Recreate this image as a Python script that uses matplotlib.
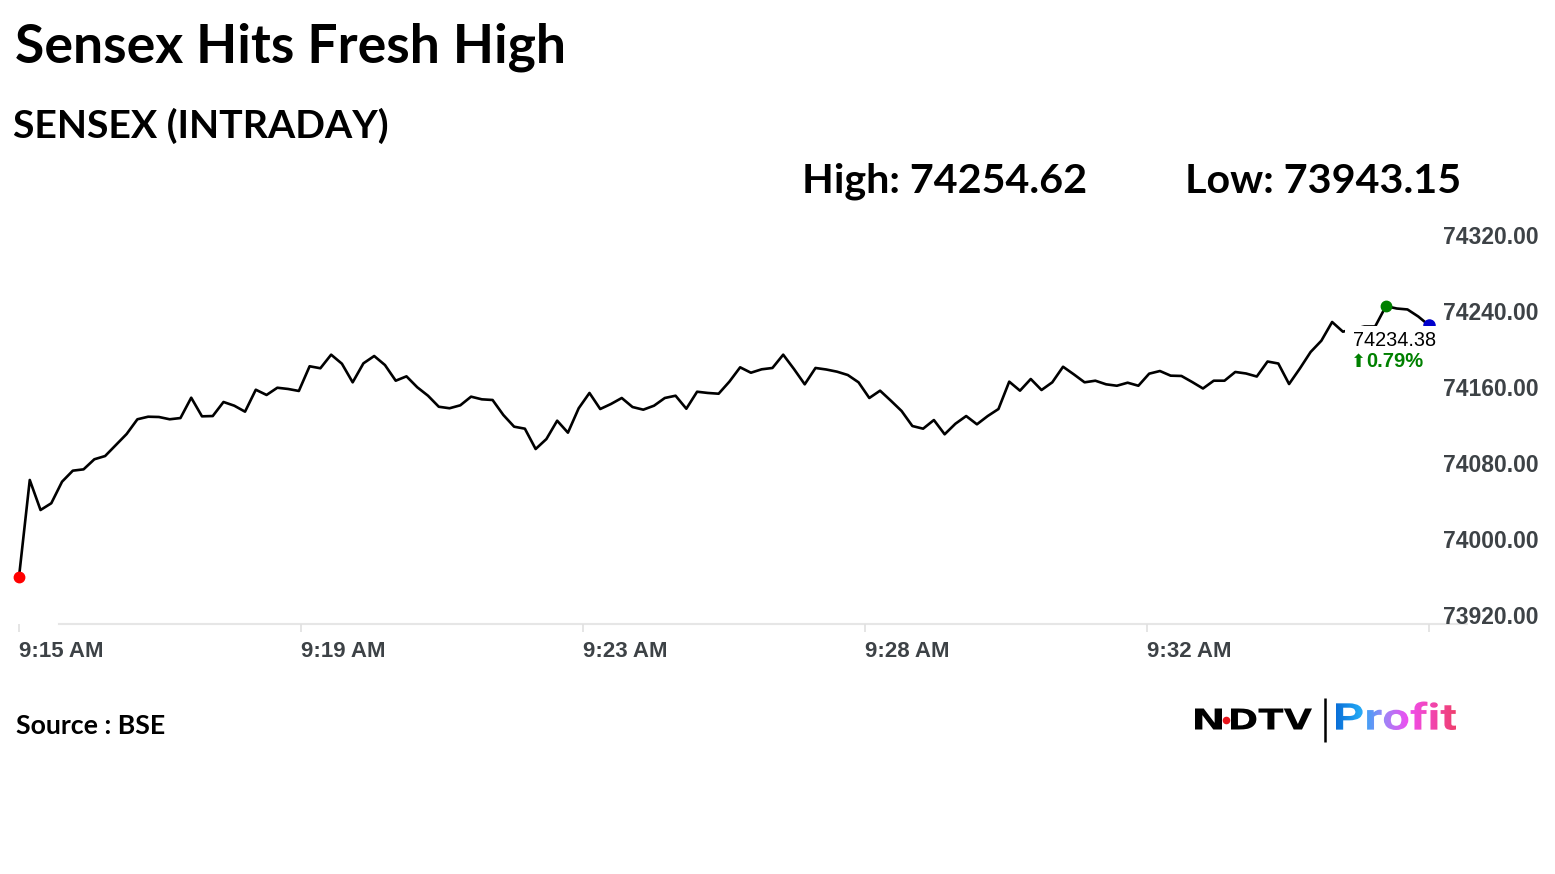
import numpy as np
import matplotlib.pyplot as plt
import matplotlib.transforms as mtransforms
from matplotlib.textpath import TextPath
from matplotlib.font_manager import FontProperties
from matplotlib.patches import PathPatch, Rectangle, Circle
from matplotlib.colors import LinearSegmentedColormap

W, H = 1555, 874

# Sensex intraday ticks
sensex = [
    73969.5, 74071.6, 74040.0, 74047.1, 74069.8, 74081.4, 74082.8, 74093.4, 74096.8, 74108.4,
    74120.0, 74135.5, 74138.2, 74137.9, 74135.5, 74136.8, 74158.2, 74138.6, 74138.9, 74153.7,
    74149.8, 74143.5, 74166.6, 74161.1, 74168.7, 74167.4, 74165.3, 74191.3, 74189.2, 74203.5,
    74194.0, 74174.4, 74194.4, 74202.1, 74192.6, 74176.1, 74180.7, 74169.2, 74160.3, 74148.7,
    74147.1, 74150.2, 74159.3, 74156.5, 74155.8, 74140.0, 74127.7, 74125.6, 74104.2, 74114.7,
    74134.0, 74121.4, 74147.1, 74163.2, 74146.3, 74151.6, 74157.9, 74148.4, 74145.6, 74149.8,
    74157.9, 74160.3, 74146.6, 74164.5, 74163.2, 74162.4, 74175.1, 74190.2, 74184.5, 74188.1,
    74189.5, 74203.5, 74188.4, 74172.3, 74189.5, 74187.9, 74185.6, 74182.1, 74174.4, 74157.9,
    74165.6, 74155.1, 74144.2, 74128.4, 74125.6, 74134.7, 74119.7, 74130.8, 74138.9, 74130.2,
    74138.9, 74146.3, 74175.1, 74165.6, 74177.9, 74166.3, 74174.4, 74190.8, 74182.8, 74174.4,
    74176.1, 74172.3, 74170.8, 74174.0, 74170.8, 74183.5, 74186.3, 74181.4, 74181.1, 74174.7,
    74167.9, 74176.1, 74176.1, 74185.3, 74183.7, 74180.5, 74196.3, 74194.2, 74172.6, 74188.9,
    74206.3, 74218.2, 74237.9, 74227.7, 74230.5, 74233.2, 74233.2, 74254.62, 74252.1, 74251.1,
    74243.7, 74234.38,
]
time_labels = ["9:15 AM", "9:19 AM", "9:23 AM", "9:28 AM", "9:32 AM", ""]
y_ticks = [73920, 74000, 74080, 74160, 74240, 74320]
day_high = 74254.62
day_low = 73943.15
pct_change = 0.79

profit_colors = ["#0a6fd8", "#23a9f5", "#9b86f7", "#f04ef0", "#f246b0", "#ef3f6e"]

def fx(x):
    return x / W

def fy(y):
    return 1 - y / H

fig = plt.figure(figsize=(W / 100, H / 100), dpi=100)
fig.patch.set_facecolor("white")

ax = fig.add_axes([fx(19), (H - 624) / H, 1410 / W, 380 / H])
x = np.arange(len(sensex))
ax.set_xlim(0, len(sensex) - 1)
ax.set_ylim(y_ticks[0], y_ticks[-1])
for s in ax.spines.values():
    s.set_visible(False)

ax.plot(x, sensex, color="black", lw=1.9, clip_on=False, zorder=3)
ax.plot(x[0], sensex[0], "o", color="red", ms=7.5, clip_on=False, zorder=4)
i_hi = int(np.argmax(sensex))
ax.plot(x[i_hi], sensex[i_hi], "o", color="green", ms=7.5, clip_on=False, zorder=4)
ax.plot(x[-1], sensex[-1], "o", color="#0000cc", ms=8, clip_on=False, zorder=4)

# baseline
ax.axhline(y_ticks[0], xmin=40 / 1410, xmax=1448 / 1410, color="#e6e6e6", lw=1.5,
           clip_on=False, zorder=1)

# x axis
ax.set_xticks(np.linspace(0, len(sensex) - 1, len(time_labels)))
ax.set_xticklabels(time_labels)
ax.tick_params(axis="x", length=6, width=1.2, color="#e0e0e0", pad=6.5,
               labelsize=16, labelcolor="#3d4246")
for lab in ax.get_xticklabels():
    lab.set_ha("left")
    lab.set_fontweight("bold")
    lab.set_family("Liberation Sans")

# y axis on the right
ax.yaxis.tick_right()
ax.set_yticks(y_ticks)
ax.set_yticklabels([f"{v:.2f}" for v in y_ticks])
ax.tick_params(axis="y", length=0, pad=10, labelsize=16.5, labelcolor="#3d4246")
for lab in ax.get_yticklabels():
    lab.set_va("baseline")
    lab.set_fontweight("bold")
    lab.set_family("Liberation Sans")

# last value label with white box
tr = fig.dpi_scale_trans + mtransforms.ScaledTranslation(x[-1], sensex[-1], ax.transData)
ax.add_patch(Rectangle((-0.84, -0.52), 0.98, 0.515, transform=tr, facecolor="white",
                       edgecolor="none", zorder=5, clip_on=False))
ax.text(-0.765, -0.21, f"{sensex[-1]:.2f}", transform=tr, fontsize=14.3, color="black",
        family="Liberation Sans", ha="left", va="baseline", zorder=6)
ax.text(-0.78, -0.42, "\u2b06", transform=tr, fontsize=13, color="green",
        family=["DejaVu Sans"], ha="left", va="baseline", zorder=6)
ax.text(-0.625, -0.42, f"{pct_change:.2f}%", transform=tr, fontsize=14.5, color="green",
        family="Liberation Sans", weight="bold", ha="left", va="baseline", zorder=6)

# titles
fig.text(fx(15), fy(62), "Sensex Hits Fresh High", fontsize=38.5, weight="bold",
         family="Lato", va="baseline")
fig.text(fx(13), fy(138), "SENSEX (INTRADAY)", fontsize=28.3, weight="bold",
         family="Lato", va="baseline")
fig.text(fx(802), fy(193), f"High: {day_high:.2f}", fontsize=29.7, weight="bold",
         family="Lato", va="baseline")
fig.text(fx(1185), fy(193), f"Low: {day_low:.2f}", fontsize=29.7, weight="bold",
         family="Lato", va="baseline")
fig.text(fx(16), fy(734), "Source : BSE", fontsize=19.3, weight="bold",
         family="Lato", va="baseline")

# logo drawn in pixel space
lx = fig.add_axes([0, 0, 1, 1], zorder=10)
lx.set_xlim(0, W)
lx.set_ylim(H, 0)
lx.axis("off")


def fit_path(text, prop, x0, x1, ytop, ybot):
    p = TextPath((0, 0), text, size=40, prop=prop)
    ext = p.get_extents()
    t = (mtransforms.Affine2D()
         .translate(-ext.x0, -ext.y0)
         .scale((x1 - x0) / ext.width, (ytop - ybot) / ext.height)
         .translate(x0, ybot))
    return t.transform_path(p)


logo_prop = FontProperties(family="DejaVu Sans", weight="bold")
lx.add_patch(PathPatch(fit_path("N", logo_prop, 1195, 1222, 708.5, 729.5), fc="black", ec="none"))
lx.add_patch(PathPatch(fit_path("DTV", logo_prop, 1231, 1312, 708.5, 729.5), fc="black", ec="none"))
lx.add_patch(Circle((1226.5, 720.5), 3.8, fc="#e8141b", ec="none"))
lx.plot([1325, 1325], [698, 742], color="black", lw=1.8, solid_capstyle="butt")

profit_prop = FontProperties(family="Roboto", weight="bold")
ppath = fit_path("Profit", profit_prop, 1336, 1456, 701.5, 730)
patch = PathPatch(ppath, fc="none", ec="none")
lx.add_patch(patch)
cmap = LinearSegmentedColormap.from_list("profit", profit_colors)
grad = np.linspace(0, 1, 256).reshape(1, -1)
im = lx.imshow(grad, cmap=cmap, extent=[1336, 1456, 730, 701.5], aspect="auto",
               interpolation="bilinear")
im.set_clip_path(patch)
lx.set_xlim(0, W)
lx.set_ylim(H, 0)

fig.savefig("out.png", dpi=100, facecolor="white")
